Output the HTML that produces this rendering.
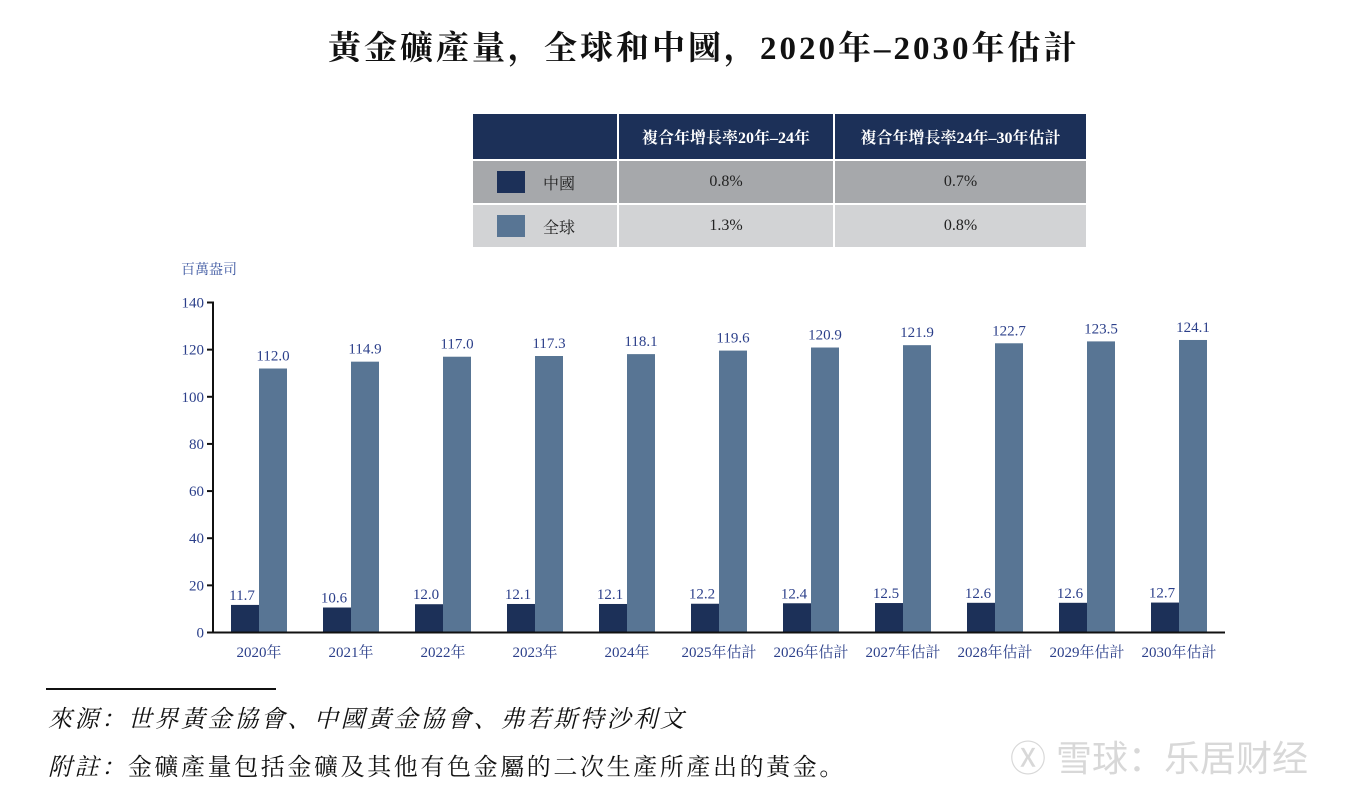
<!DOCTYPE html>
<html><head><meta charset="utf-8"><style>
body{margin:0;background:#fff;width:1360px;height:794px;overflow:hidden;position:relative;font-family:"Liberation Serif","Noto Serif CJK SC",serif}
.t{position:absolute}
table{position:absolute;left:471px;top:112px;border-collapse:collapse}
td{padding:0;text-align:center;font-size:16px;color:#222;border:2px solid #fff}
</style></head><body>
<div class="t" style="left:328px;width:780px;top:22px;font-size:33px;font-weight:bold;color:#111;letter-spacing:3px;white-space:nowrap">黃金礦產量，全球和中國，2020年–2030年估計</div>
<table>
<tr style="height:47px;background:#1c3058;color:#fff"><td style="width:144px"></td><td style="width:214px;color:#fff;font-weight:bold">複合年增長率20年–24年</td><td style="width:251px;color:#fff;font-weight:bold">複合年增長率24年–30年估計</td></tr>
<tr style="height:44px;background:#a6a8ab"><td style="text-align:left"><span style="display:inline-block;width:28px;height:22px;background:#1c3058;vertical-align:middle;margin:0 18px 0 24px"></span><span style="vertical-align:middle">中國</span></td><td>0.8%</td><td>0.7%</td></tr>
<tr style="height:44px;background:#d2d3d5"><td style="text-align:left"><span style="display:inline-block;width:28px;height:22px;background:#587594;vertical-align:middle;margin:0 18px 0 24px"></span><span style="vertical-align:middle">全球</span></td><td>1.3%</td><td>0.8%</td></tr>
</table>
<div class="t" style="left:181px;top:259px;font-size:14px;color:#3a55a0">百萬盎司</div>
<svg id="c" class="t" style="left:0;top:0" width="1360" height="794"></svg>
<div class="t" style="left:46px;top:688px;width:230px;border-top:2px solid #111"></div>
<div class="t" style="left:48px;top:699px;font-size:24px;font-style:italic;color:#111;letter-spacing:2.6px;white-space:nowrap">來源：世界黃金協會、中國黃金協會、弗若斯特沙利文</div>
<div class="t" style="left:48px;top:747px;font-size:24px;color:#111;letter-spacing:2.6px;white-space:nowrap"><i>附註：</i>金礦產量包括金礦及其他有色金屬的二次生產所產出的黃金。</div>
<div class="t" style="left:1010px;top:730px;font-size:36px;color:#d8d8d8;font-family:'Liberation Sans','Noto Sans CJK SC',sans-serif">Ⓧ 雪球：乐居财经</div>
<script>
const categories=["2020年","2021年","2022年","2023年","2024年","2025年估計","2026年估計","2027年估計","2028年估計","2029年估計","2030年估計"];
const chinaValues=[11.7,10.6,12.0,12.1,12.1,12.2,12.4,12.5,12.6,12.6,12.7];
const globalValues=[112.0,114.9,117.0,117.3,118.1,119.6,120.9,121.9,122.7,123.5,124.1];
const yTicks=[0,20,40,60,80,100,120,140];
const svg=document.getElementById('c');const NS='http://www.w3.org/2000/svg';
const x0=213,x1=1225,y0=632.5,yTop=302.5,yMax=140,step=92;
const y=v=>y0-(v/yMax)*(y0-yTop);
const cx=i=>259+i*step;
function mk(t,a){const e=document.createElementNS(NS,t);for(const k in a)e.setAttribute(k,a[k]);svg.appendChild(e);return e;}
function txt(s,a){const e=mk('text',Object.assign({'font-family':'Liberation Serif, Noto Serif CJK SC, serif','font-size':15,fill:'#2b3f8a'},a));e.textContent=s;return e;}
yTicks.forEach(v=>{const l=mk('line',{x1:x0-6,x2:x0,y1:y(v),y2:y(v),stroke:'#111','stroke-width':2});

const t=txt(v,{x:x0-9,y:y(v)+5,'text-anchor':'end'});});
categories.forEach((c,i)=>{
const b1=mk('rect',{x:cx(i)-28,y:y(chinaValues[i]),width:28,height:y0-y(chinaValues[i]),fill:'#1c3058'});

const b2=mk('rect',{x:cx(i),y:y(globalValues[i]),width:28,height:y0-y(globalValues[i]),fill:'#587594'});

const l1=txt(chinaValues[i].toFixed(1),{x:cx(i)-17,y:y(chinaValues[i])-5,'text-anchor':'middle'});

const l2=txt(globalValues[i].toFixed(1),{x:cx(i)+14,y:y(globalValues[i])-8,'text-anchor':'middle'});

const xl=txt(c,{x:cx(i),y:657,'text-anchor':'middle'});

});
const ax=mk('line',{x1:x0,x2:x0,y1:yTop-1,y2:y0+1,stroke:'#111','stroke-width':2});

const bx=mk('line',{x1:x0-1,x2:x1,y1:y0,y2:y0,stroke:'#111','stroke-width':2});

</script>
</body></html>
